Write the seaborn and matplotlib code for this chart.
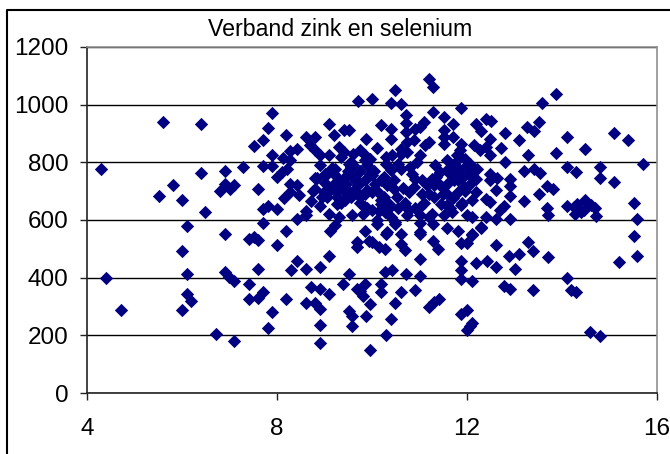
import matplotlib
matplotlib.use("Agg")
import matplotlib.pyplot as plt
from matplotlib.lines import Line2D
import pandas as pd
import seaborn as sns

title = "Verband zink en selenium"
x_ticks = [4, 8, 12, 16]
y_ticks = [0, 200, 400, 600, 800, 1000, 1200]

zink = [
    9.70,5.59,6.41,7.89,7.81,9.09,8.19,7.70,7.51,8.60,8.79,9.21,9.40,9.52,9.87,8.70,8.81,8.91,8.42,8.28,
    7.89,8.12,8.28,9.09,9.30,9.40,9.61,9.75,9.86,4.30,6.41,6.91,7.28,7.70,7.89,8.91,9.51,9.86,8.21,8.11,
    8.00,5.81,5.51,6.00,6.49,6.11,6.91,6.91,7.09,7.02,6.79,7.59,8.28,8.42,8.14,8.28,8.46,7.70,7.82,8.00,
    8.72,8.60,8.60,8.91,8.42,7.70,8.19,9.09,9.30,9.58,9.82,9.23,9.11,9.86,8.79,9.02,9.23,9.40,9.58,8.81,
    8.98,9.19,9.26,9.05,9.47,9.68,9.86,9.89,9.26,9.44,9.86,
    11.21,11.28,10.49,10.00,10.41,10.61,11.28,11.88,13.88,13.58,10.72,11.51,10.19,10.41,10.41,10.72,10.72,10.91,11.09,11.02,
    11.70,11.51,11.51,11.70,11.51,12.18,12.29,12.40,12.51,12.49,12.79,13.09,12.72,13.26,13.40,13.51,14.11,15.09,15.39,14.49,
    13.88,13.28,12.79,15.70,14.11,14.79,14.30,14.79,15.09,13.19,13.40,13.53,12.49,12.63,12.48,12.91,12.91,12.60,12.90,13.51,
    13.68,13.82,13.21,15.51,15.58,15.51,14.11,14.25,14.32,14.39,14.28,14.46,14.49,14.60,14.70,14.72,13.68,13.70,12.90,12.62,
    12.41,12.77,12.70,12.49,12.39,12.29,12.11,11.80,11.58,11.02,10.60,10.29,11.28,11.02,11.88,11.99,12.11,11.58,11.68,11.51,
    10.11,10.30,10.30,10.42,10.60,10.74,11.02,11.19,11.12,10.74,10.88,11.87,12.14,12.28,12.48,12.39,11.33,11.58,11.86,11.96,
    11.72,12.07,12.21,11.86,11.79,10.79,10.60,10.39,10.25,10.00,10.46,10.18,10.32,10.07,10.46,10.91,11.05,11.26,11.44,11.61,
    11.82,11.96,12.18,12.07,11.72,11.47,11.30,10.88,10.77,11.19,11.30,11.58,11.82,12.18,12.11,11.93,10.00,10.18,10.35,10.53,
    10.67,10.77,11.02,11.02,11.26,10.74,10.49,10.39,10.18,10.32,10.11,10.28,10.00,
    9.60,9.75,9.90,9.65,9.40,9.55,9.75,9.90,9.70,9.20,9.30,9.00,9.10,9.50,
    6.00,4.41,4.71,6.11,6.00,6.11,6.19,6.91,6.98,7.09,6.72,7.09,7.40,7.51,7.60,8.00,7.59,7.40,7.40,7.60,
    7.71,7.89,7.81,8.19,8.29,8.42,8.60,8.90,9.09,9.68,9.68,9.93,9.51,8.72,8.90,9.09,9.39,9.68,9.86,9.81,
    9.75,8.60,8.79,8.90,8.90,8.90,9.51,9.58,9.58,9.88,9.95,9.96,
    15.58,15.21,14.58,14.79,14.11,14.18,14.30,13.70,13.39,13.28,13.39,13.09,12.88,13.02,12.60,12.42,12.60,12.18,11.88,11.88,
    11.88,12.11,12.77,12.91,12.00,11.88,12.11,12.30,11.28,11.39,11.02,11.02,10.72,10.91,10.60,10.42,10.28,10.18,10.19,10.49,
    10.41,10.29,11.40,11.30,11.21,12.00,11.88,12.11,12.00,12.06,10.60,10.70,10.28,10.14,10.00,10.11,10.32,10.49,11.02,
    9.15,9.35,9.55,9.75,9.95,10.10,9.05,9.25,9.45,9.65,9.85,10.05,10.25,8.85,9.35,9.55,9.95,10.15,10.35,10.55,
    10.65,10.85,11.05,11.15,11.35,11.50,11.65,11.80,11.95,12.05,10.55,10.70,10.90,11.10,11.40,11.55,11.70,11.90,12.10,11.75,
    11.90,11.65,11.45,10.95,10.60,11.20,8.95,8.75,9.35,9.60,
]
selenium = [
    1014,939,932,970,919,932,894,876,857,888,888,894,911,913,882,859,842,824,847,838,
    827,815,807,824,853,836,830,842,824,777,764,771,784,788,788,790,795,807,778,766,
    749,721,684,671,627,578,553,726,720,709,701,709,726,720,676,697,686,639,649,639,
    665,631,616,649,602,591,561,622,610,616,622,581,562,561,747,758,778,747,753,709,
    697,726,680,680,703,697,738,703,657,668,645,
    1089,1061,1050,1018,1006,1001,976,987,1038,1007,963,957,928,917,882,935,906,917,940,921,
    932,911,888,888,862,934,907,951,943,882,901,876,851,921,909,939,888,901,876,845,
    832,825,801,795,784,784,765,747,733,771,778,764,758,747,740,742,719,703,682,690,
    718,709,665,659,602,543,650,645,657,628,622,634,668,651,642,614,642,618,602,602,
    610,649,634,662,674,572,547,561,572,553,553,553,587,590,653,616,610,651,628,616,
    851,819,795,824,830,836,827,871,859,871,876,865,859,842,824,853,790,807,819,813,
    795,795,778,842,824,784,778,772,749,755,738,738,720,726,709,743,738,743,766,778,
    766,784,743,726,738,714,720,714,697,691,680,726,697,697,668,714,697,668,657,680,
    657,634,645,616,622,616,593,610,657,651,599,628,634,
    790,770,790,740,700,680,660,640,720,760,740,730,700,770,
    494,400,288,414,288,342,318,421,403,387,206,182,534,540,532,514,431,377,326,330,
    352,282,225,326,427,457,431,438,476,522,505,528,414,368,361,345,377,361,377,338,
    353,312,312,293,237,175,283,268,231,268,307,149,
    476,456,213,199,400,357,350,470,357,522,493,482,476,431,513,458,437,450,458,426,
    394,388,371,361,520,520,551,575,528,499,464,406,414,357,350,426,420,377,350,312,
    258,200,326,316,298,289,275,243,217,231,516,495,499,505,522,586,557,586,557,
    780,715,800,680,810,700,760,700,725,745,690,770,680,745,660,785,760,630,640,795,
    710,760,690,720,750,690,760,740,700,760,640,660,640,660,725,695,675,745,770,790,
    660,640,655,800,845,610,680,700,820,700,
]
assert len(zink) == len(selenium)
df = pd.DataFrame({"zink": zink, "selenium": selenium})

sns.set_theme(style="white")
plt.rcParams["font.family"] = ["Liberation Sans", "DejaVu Sans"]

fig = plt.figure(figsize=(6.7, 4.54), dpi=100, facecolor="white")
ax = fig.add_axes([87 / 670, 1 - 393 / 454, 570 / 670, 346 / 454])
ax.yaxis.grid(True, color="black", linewidth=1.0)
ax.xaxis.grid(False)
ax.set_axisbelow(True)
sns.scatterplot(data=df, x="zink", y="selenium", marker="D", color="#000080",
                s=46, linewidth=0, ax=ax, clip_on=False, zorder=3)
ax.set_xlim(4, 16)
ax.set_ylim(0, 1200)
ax.set_xticks(x_ticks)
ax.set_yticks(y_ticks)
ax.set_xlabel("")
ax.set_ylabel("")
ax.tick_params(axis="both", which="major", direction="out", length=5, width=1,
               color="#222222", labelsize=17.5, labelcolor="black",
               left=True, bottom=True)
ax.tick_params(axis="x", pad=13)
ax.tick_params(axis="y", pad=8.5)
for name, col in [("left", "#222222"), ("bottom", "#222222"), ("top", "#909090"), ("right", "#909090")]:
    ax.spines[name].set_visible(True)
    ax.spines[name].set_color(col)
    ax.spines[name].set_linewidth(1.2)

fig.text(340 / 670, 1 - 29.5 / 454, title, ha="center", va="center", fontsize=16.7, color="black")
fig.add_artist(Line2D([6.5 / 670, 6.5 / 670, 1], [0, 1 - 9.5 / 454, 1 - 9.5 / 454],
                      color="black", linewidth=1.5, transform=fig.transFigure))
fig.savefig("out.png", dpi=100, facecolor="white")
